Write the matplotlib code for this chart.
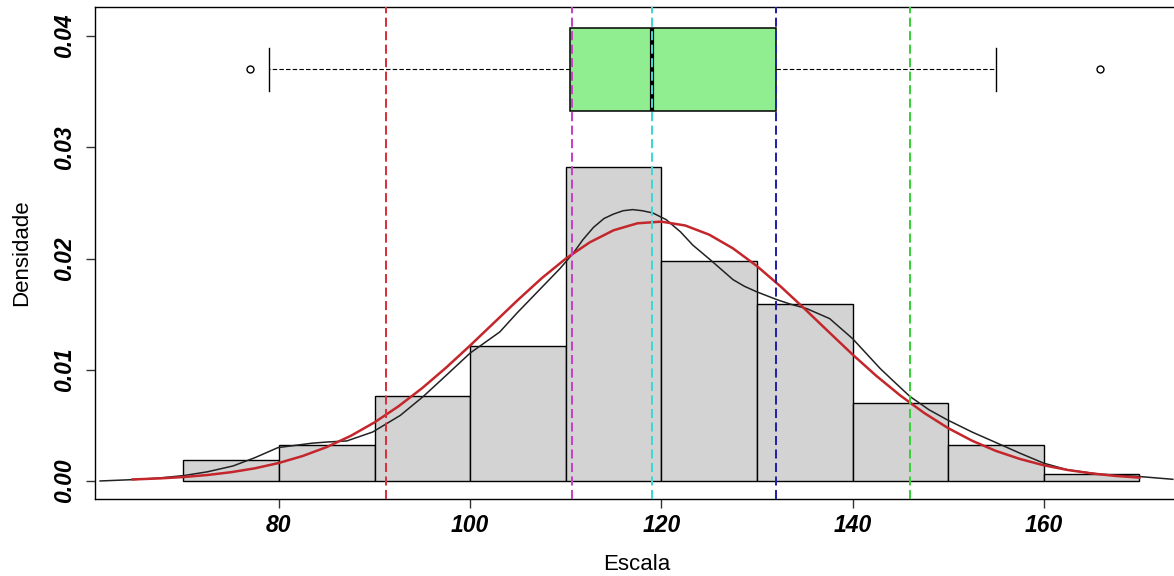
import matplotlib
matplotlib.use('Agg')
import matplotlib.pyplot as plt

# histogram (density) bins of width 10
bin_left = [70, 80, 90, 100, 110, 120, 130, 140, 150, 160]
densidade = [0.0019, 0.0032, 0.0076, 0.0121, 0.0282, 0.0198, 0.0159, 0.0070, 0.0032, 0.0006]

# kernel density curve (black)
kde_x = [61.3, 64.7, 67.5, 70.0, 72.5, 75.2, 77.5, 79.9, 83.5, 85.0, 87.1, 89.8, 92.7, 95.1, 97.5,
         100.0, 103.1, 104.9, 107.6, 109.4, 110.8, 111.8, 112.9, 114.0, 115.0, 116.0, 117.0,
         118.0, 119.1, 120.5, 122.0, 123.3, 125.1, 127.5, 128.7, 130.0, 132.1, 133.5, 135.2,
         137.6, 140.0, 142.9, 144.5, 146.0, 148.0, 149.9, 152.5, 155.4, 157.5, 160.0, 162.5,
         165.9, 170.0, 173.5]
kde_y = [0.0000, 0.00012, 0.00027, 0.00048, 0.00082, 0.00135, 0.0021, 0.0030, 0.0034, 0.0035,
         0.0036, 0.0044, 0.0059, 0.0076, 0.0095, 0.0115, 0.0134, 0.0151, 0.0175, 0.0191,
         0.0205, 0.0217, 0.0228, 0.0236, 0.0240, 0.0243, 0.0244, 0.0243, 0.0241, 0.0235,
         0.0224, 0.0212, 0.0199, 0.0181, 0.0175, 0.0170, 0.0163, 0.0159, 0.0155, 0.0146,
         0.0128, 0.0101, 0.0088, 0.0076, 0.0064, 0.0055, 0.0044, 0.0033, 0.0025, 0.0016,
         0.0010, 0.0006, 0.0004, 0.00015]

# normal curve (red)
norm_x = [64.7, 67.5, 70, 72.5, 75, 77.5, 80, 82.5, 85, 87.5, 90, 92.5, 95, 97.5, 100, 102.5,
          105, 107.5, 110, 112.5, 115, 117.5, 120, 122.5, 125, 127.5, 130, 132.5, 135, 137.5,
          140, 142.5, 145, 147.5, 150, 152.5, 155, 157.5, 160, 162.5, 165, 167.5, 170]
norm_y = [0.000137, 0.000229, 0.000353, 0.000534, 0.00079, 0.00114, 0.00162, 0.00225, 0.00305,
          0.00405, 0.00527, 0.00671, 0.00836, 0.01020, 0.01218, 0.01423, 0.01628, 0.01824,
          0.01999, 0.02145, 0.02254, 0.02317, 0.02332, 0.02297, 0.02215, 0.02091, 0.01932,
          0.01747, 0.01547, 0.01341, 0.01137, 0.00944, 0.00768, 0.00611, 0.00475, 0.00362,
          0.00270, 0.00198, 0.00141, 0.000988, 0.00068, 0.000454, 0.000298]

# boxplot summary
box_stats = dict(whislo=78.95, q1=110.45, med=119.0, q3=132.0, whishi=155.0, fliers=[77.0, 165.9])
box_pos = 0.037

# vertical reference lines
vlinhas = [91.2, 110.7, 119.0, 132.0, 146.0]
vcores = ['#d8323c', '#c643c6', '#3fd6d6', '#2424a8', '#3ccf3c']

xticks = [80, 100, 120, 140, 160]
yticks = [0.00, 0.01, 0.02, 0.03, 0.04]

fig = plt.figure(figsize=(11.74, 5.76), dpi=100)
ax = fig.add_axes([0.0809, 0.1337, 0.923, 0.854])

ax.bar(bin_left, densidade, width=10, align='edge', color='#d3d3d3', edgecolor='black', linewidth=1.0, zorder=1)

ax.bxp([box_stats], positions=[box_pos], widths=0.0075, capwidths=0.0039, orientation='horizontal',
       patch_artist=True, manage_ticks=False,
       boxprops=dict(facecolor='#90ee90', edgecolor='black', linewidth=1.1),
       medianprops=dict(color='black', linewidth=3.0),
       whiskerprops=dict(color='black', linewidth=0.8, linestyle=(0, (4.0, 2.0))),
       capprops=dict(color='black', linewidth=1.0),
       flierprops=dict(marker='o', markersize=5, markerfacecolor='none', markeredgecolor='black', markeredgewidth=1.0),
       zorder=2)

ax.plot(kde_x, kde_y, color='#222222', linewidth=1.1, zorder=3)
ax.plot(norm_x, norm_y, color='#c3262b', linewidth=1.8, zorder=4)

for v, c in zip(vlinhas, vcores):
    ax.axvline(v, color=c, linewidth=1.45, linestyle=(0, (4.5, 2.2)), zorder=5)

ax.set_xlim(60.76, 174.1)
ax.set_ylim(-0.00162, 0.04261)
ax.set_xticks(xticks)
ax.set_yticks(yticks)
ax.set_xticklabels([str(t) for t in xticks])
ax.set_yticklabels(['%.2f' % t for t in yticks], rotation=90, va='center')

fonte = 'Liberation Sans'
for lab in ax.get_xticklabels() + ax.get_yticklabels():
    lab.set_family(fonte)
    lab.set_fontweight('bold')
    lab.set_fontstyle('italic')
    lab.set_fontsize(16.5)
ax.tick_params(axis='both', direction='out', length=6.5, width=1.0, color='#333333')
ax.tick_params(axis='x', pad=4)
ax.tick_params(axis='y', pad=7)

for s in ax.spines.values():
    s.set_linewidth(1.0)
    s.set_color('black')

ax.set_xlabel('Escala', family=fonte, fontsize=16)
ax.set_ylabel('Densidade', family=fonte, fontsize=16)
ax.xaxis.set_label_coords(0.5, -0.112)
ax.yaxis.set_label_coords(-0.058, 0.5)

plt.savefig('out.png', dpi=100)
plt.close()
